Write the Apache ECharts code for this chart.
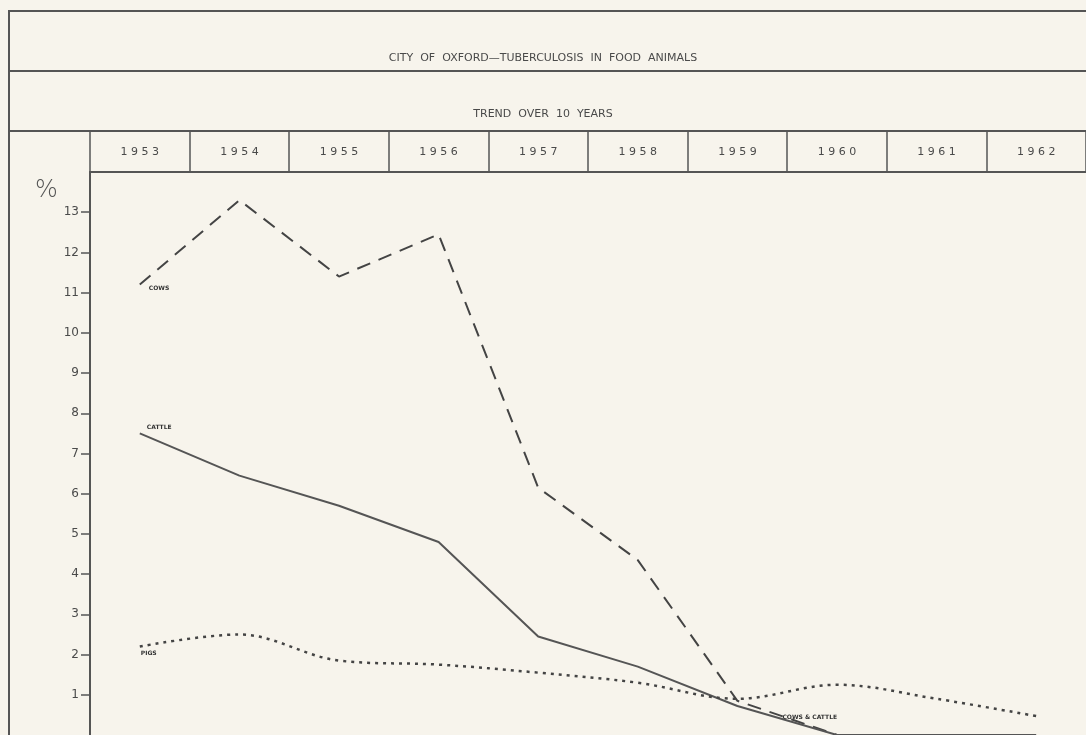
<!DOCTYPE html>
<html>
<head>
<meta charset="utf-8">
<title>City of Oxford - Tuberculosis in food animals</title>
<script src="https://cdn.jsdelivr.net/npm/echarts@6/dist/echarts.min.js"></script>
<style>
    html, body { margin: 0; padding: 0; background: #f7f4ec; }
    #chart { width: 1086px; height: 735px; }
</style>
</head>
<body>
<div id="chart"></div>
<script>
// 年份
var years = ['1953', '1954', '1955', '1956', '1957', '1958', '1959', '1960', '1961', '1962'];
// 百分比 (%)
var cows = [11.2, 13.3, 11.4, 12.45, 6.15, 4.35, 0.85, 0, 0, 0];
var cattle = [7.5, 6.45, 5.7, 4.8, 2.45, 1.7, 0.72, 0, 0, 0];
var pigs = [2.2, 2.5, 1.85, 1.75, 1.55, 1.3, 0.9, 1.25, 0.9, 0.47];
// y轴刻度
var yTicks = [1, 2, 3, 4, 5, 6, 7, 8, 9, 10, 11, 12, 13];

var ink = '#4a4a4a';
var font = 'DejaVu Sans';

// 年份之间加空格, 模仿原图的字距
function spaced(s) {
    return s.split('').join(' ');
}

// 线上的小标签
function smallLabel(text, pos, offset) {
    return {
        show: true,
        formatter: text,
        position: pos,
        offset: offset,
        fontSize: 6,
        fontWeight: 'bold',
        fontFamily: font,
        color: '#333'
    };
}

function withLabel(arr, index, label) {
    return arr.map(function(v, i) {
        return i === index ? { value: v, label: label } : v;
    });
}

var cowsData = withLabel(cows, 0, smallLabel('COWS', 'right', [4, 4]));
var cattleData = withLabel(cattle, 0, smallLabel('CATTLE', 'right', [2, -6]));
cattleData[6] = { value: cattle[6], label: smallLabel('COWS & CATTLE', 'right', [40, 11]) };
var pigsData = withLabel(pigs, 0, smallLabel('PIGS', 'right', [-4, 7]));

var myChart = echarts.init(document.getElementById('chart'));
var option = {
    backgroundColor: '#f7f4ec',
    animation: false,
    title: [{
        text: 'CITY  OF  OXFORD—TUBERCULOSIS  IN  FOOD  ANIMALS',
        left: 'center',
        top: 48,
        textStyle: { fontSize: 11, fontWeight: 'normal', color: ink, fontFamily: font }
    }, {
        text: 'TREND  OVER  10  YEARS',
        left: 'center',
        top: 104,
        textStyle: { fontSize: 11, fontWeight: 'normal', color: ink, fontFamily: font }
    }, {
        text: '%',
        left: 30,
        top: 174,
        textStyle: { fontSize: 24, fontWeight: 'lighter', color: '#555', fontFamily: font }
    }],
    // 外框线
    graphic: [
        { type: 'line', shape: { x1: 9, y1: 11, x2: 1086, y2: 11 }, style: { stroke: '#555', lineWidth: 2 } },
        { type: 'line', shape: { x1: 9, y1: 71, x2: 1086, y2: 71 }, style: { stroke: '#555', lineWidth: 2 } },
        { type: 'line', shape: { x1: 9, y1: 131, x2: 1086, y2: 131 }, style: { stroke: '#555', lineWidth: 2 } },
        { type: 'line', shape: { x1: 9, y1: 10, x2: 9, y2: 735 }, style: { stroke: '#555', lineWidth: 2 } }
    ],
    grid: {
        left: 90,
        top: 172,
        width: 1006,
        height: 564
    },
    xAxis: {
        type: 'category',
        position: 'top',
        data: years,
        boundaryGap: true,
        axisLine: { onZero: false, lineStyle: { color: '#555', width: 2 } },
        axisTick: { show: true, length: 41, lineStyle: { color: '#555', width: 1.5 } },
        axisLabel: {
            margin: 14,
            fontSize: 11,
            color: ink,
            fontFamily: font,
            formatter: spaced
        },
        splitLine: { show: false }
    },
    yAxis: {
        type: 'value',
        min: 0,
        max: 14,
        interval: 1,
        axisLine: { show: true, lineStyle: { color: '#555', width: 2 } },
        axisTick: { show: true, length: 9, customValues: yTicks, lineStyle: { color: '#555', width: 1.5 } },
        axisLabel: { margin: 11, fontSize: 12, color: ink, fontFamily: font, customValues: yTicks },
        splitLine: { show: false }
    },
    series: [{
        name: 'Cows',
        type: 'line',
        data: cowsData,
        showSymbol: true,
        symbolSize: 0,
        lineStyle: { color: '#444', width: 2, type: [14, 9] }
    }, {
        name: 'Cattle',
        type: 'line',
        data: cattleData,
        showSymbol: true,
        symbolSize: 0,
        lineStyle: { color: '#555', width: 2 }
    }, {
        name: 'Pigs',
        type: 'line',
        data: pigsData,
        smooth: 0.35,
        showSymbol: true,
        symbolSize: 0,
        lineStyle: { color: '#444', width: 2.5, type: [3, 5] }
    }]
};
myChart.setOption(option);
</script>
</body>
</html>
